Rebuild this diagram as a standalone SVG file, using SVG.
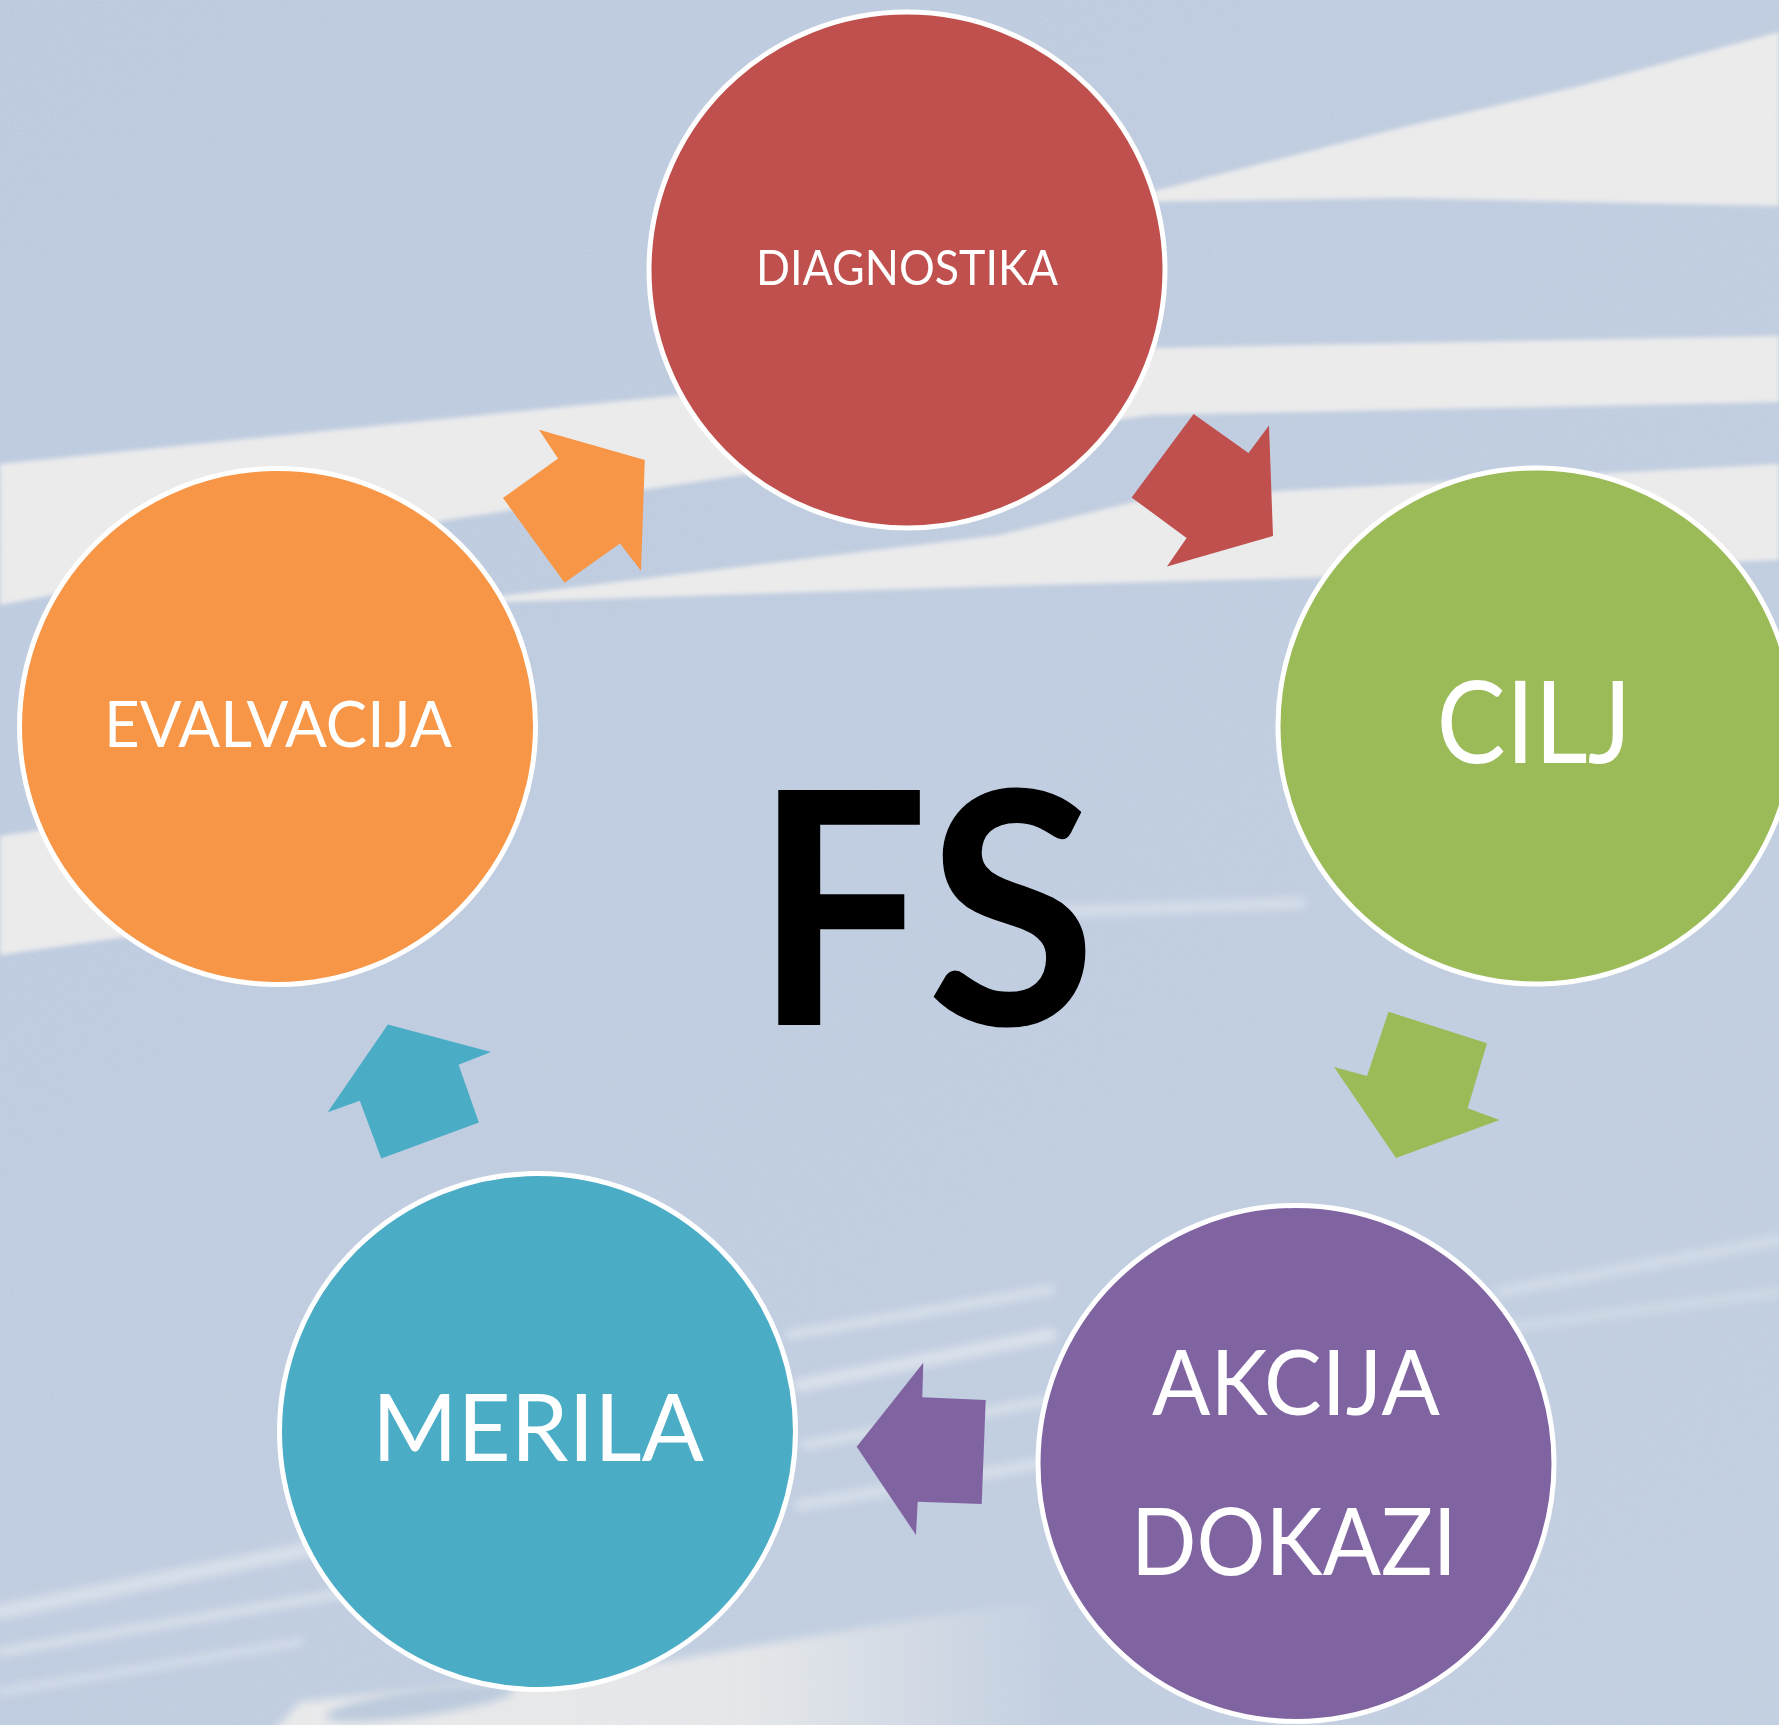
<svg xmlns="http://www.w3.org/2000/svg" width="1779" height="1725" viewBox="0 0 1779 1725">
<defs>
<style>
.node circle{stroke:#ffffff;stroke-width:5}
.lbl{font-family:Lato,"Open Sans","Liberation Sans",sans-serif;fill:#ffffff;text-anchor:middle}
.streak{fill:#ebebeb}
.faint{stroke:#eef0f4;fill:none;stroke-linecap:round}
</style>
<filter id="soft" x="-5%" y="-5%" width="110%" height="110%"><feGaussianBlur stdDeviation="2.2"/></filter>
<filter id="blur" x="-10%" y="-50%" width="120%" height="200%"><feGaussianBlur stdDeviation="4"/></filter>
<filter id="grain" x="0" y="0" width="100%" height="100%">
<feTurbulence type="fractalNoise" baseFrequency="0.6" numOctaves="3" seed="7"/>
<feColorMatrix type="matrix" values="0 0 0 0 0.58  0 0 0 0 0.65  0 0 0 0 0.78  1.6 0 0 0 -0.62"/>
</filter>
<linearGradient id="sky" x1="0" y1="0" x2="1" y2="1">
<stop offset="0" stop-color="#bccadf"/>
<stop offset="0.5" stop-color="#c0cde0"/>
<stop offset="1" stop-color="#c3d0e0"/>
</linearGradient>
<linearGradient id="fadeR" gradientUnits="userSpaceOnUse" x1="280" y1="0" x2="1060" y2="0">
<stop offset="0" stop-color="#ebebeb" stop-opacity="0.95"/>
<stop offset="0.6" stop-color="#ebebeb" stop-opacity="0.85"/>
<stop offset="1" stop-color="#ebebeb" stop-opacity="0"/>
</linearGradient>
</defs>

<g id="background">
<rect x="0" y="0" width="1779" height="1725" fill="url(#sky)"/>
<rect x="0" y="0" width="1779" height="1725" filter="url(#grain)" opacity="0.7"/>
<g filter="url(#soft)">
<path class="streak" d="M1120,200 L1400,128 L1580,86 L1779,32 L1779,206 L1400,198 L1120,202 Z"/>
<path class="streak" d="M0,464 L700,393 L1150,348 L1779,336 L1779,402 L1150,415 L721,478 L447,520 L0,605 Z"/>
<path class="streak" d="M470,600 L1000,535 L1150,498 L1779,464 L1779,560 L1300,578 L1000,586 L470,603 Z"/>
<path class="streak" d="M0,836 L140,815 L140,935 L0,955 Z"/>
</g>
<path fill="url(#fadeR)" filter="url(#blur)" d="M270,1735 L300,1702 L600,1672 L880,1625 L1060,1598 L1060,1735 Z"/>
<ellipse cx="420" cy="1703" rx="95" ry="13" transform="rotate(-8 420 1703)" fill="#bccadd" filter="url(#blur)"/>
<g filter="url(#blur)">
<path class="faint" stroke-width="12" opacity="0.45" d="M1000,914 L1300,903"/>
<path class="faint" stroke-width="16" opacity="0.5" d="M0,1612 L330,1545"/>
<path class="faint" stroke-width="10" opacity="0.5" d="M0,1652 L350,1592"/>
<path class="faint" stroke-width="8" opacity="0.45" d="M0,1692 L300,1642"/>
<path class="faint" stroke-width="10" opacity="0.5" d="M790,1335 L1050,1290"/>
<path class="faint" stroke-width="14" opacity="0.55" d="M800,1385 L1050,1335"/>
<path class="faint" stroke-width="10" opacity="0.5" d="M805,1445 L1050,1400"/>
<path class="faint" stroke-width="12" opacity="0.45" d="M800,1505 L1050,1462"/>
<path class="faint" stroke-width="10" opacity="0.4" d="M1500,1292 L1779,1240"/>
<path class="faint" stroke-width="8" opacity="0.35" d="M1450,1335 L1779,1292"/>
</g>
</g>

<g id="connectors">
<polygon id="arrow-diagnostika-cilj" fill="#c0504d" points="1193.6,414 1248.5,453 1269,425.5 1273,536 1167,566.6 1186.6,538 1131.6,497.4"/>
<polygon id="arrow-cilj-akcija" fill="#9bbb59" points="1388.5,1011.8 1487,1043.2 1467.7,1108.3 1499.6,1120 1396,1158 1334,1067 1367,1076"/>
<polygon id="arrow-akcija-merila" fill="#8064a2" points="985.7,1400 981.7,1504 917.7,1501.7 916,1535 856.7,1446.7 923.3,1362.7 922.3,1397.3"/>
<polygon id="arrow-merila-evalvacija" fill="#4bacc6" points="478.9,1122.5 381.3,1158.6 359.8,1100.8 327.7,1112.3 387.8,1024.5 491,1052 458.6,1064.7"/>
<polygon id="arrow-evalvacija-diagnostika" fill="#f79646" points="503,498 558,458.5 539,429.7 644.8,460 641,570.8 620,543.5 564.6,582.7"/>
</g>

<g id="node-diagnostika" class="node">
<circle cx="907" cy="270" r="258" fill="#c0504d"/>
<text class="lbl" x="907" y="285" font-size="48" textLength="302" lengthAdjust="spacingAndGlyphs">DIAGNOSTIKA</text>
</g>
<g id="node-cilj" class="node">
<circle cx="1536" cy="726" r="258" fill="#9bbb59"/>
<text class="lbl" x="1534" y="763" font-size="115" textLength="195" lengthAdjust="spacingAndGlyphs">CILJ</text>
</g>
<g id="node-akcija-dokazi" class="node">
<circle cx="1296" cy="1463.5" r="258" fill="#8064a2"/>
<text class="lbl" x="1296" y="1415" font-size="92" textLength="288" lengthAdjust="spacingAndGlyphs">AKCIJA</text>
<text class="lbl" x="1294" y="1575" font-size="94" textLength="326" lengthAdjust="spacingAndGlyphs">DOKAZI</text>
</g>
<g id="node-merila" class="node">
<circle cx="537.5" cy="1431.5" r="258" fill="#4bacc6"/>
<text class="lbl" x="538" y="1461" font-size="94" textLength="332" lengthAdjust="spacingAndGlyphs">MERILA</text>
</g>
<g id="node-evalvacija" class="node">
<circle cx="277.5" cy="726.5" r="258" fill="#f79646"/>
<text class="lbl" x="278" y="747" font-size="64" textLength="348" lengthAdjust="spacingAndGlyphs">EVALVACIJA</text>
</g>

<g id="center-label">
<text x="0" y="0" transform="translate(925,1025) scale(0.955,1)" font-family="Lato,'Open Sans','Liberation Sans',sans-serif" font-weight="700" font-size="325" text-anchor="middle" fill="#000000">FS</text>
</g>
</svg>
